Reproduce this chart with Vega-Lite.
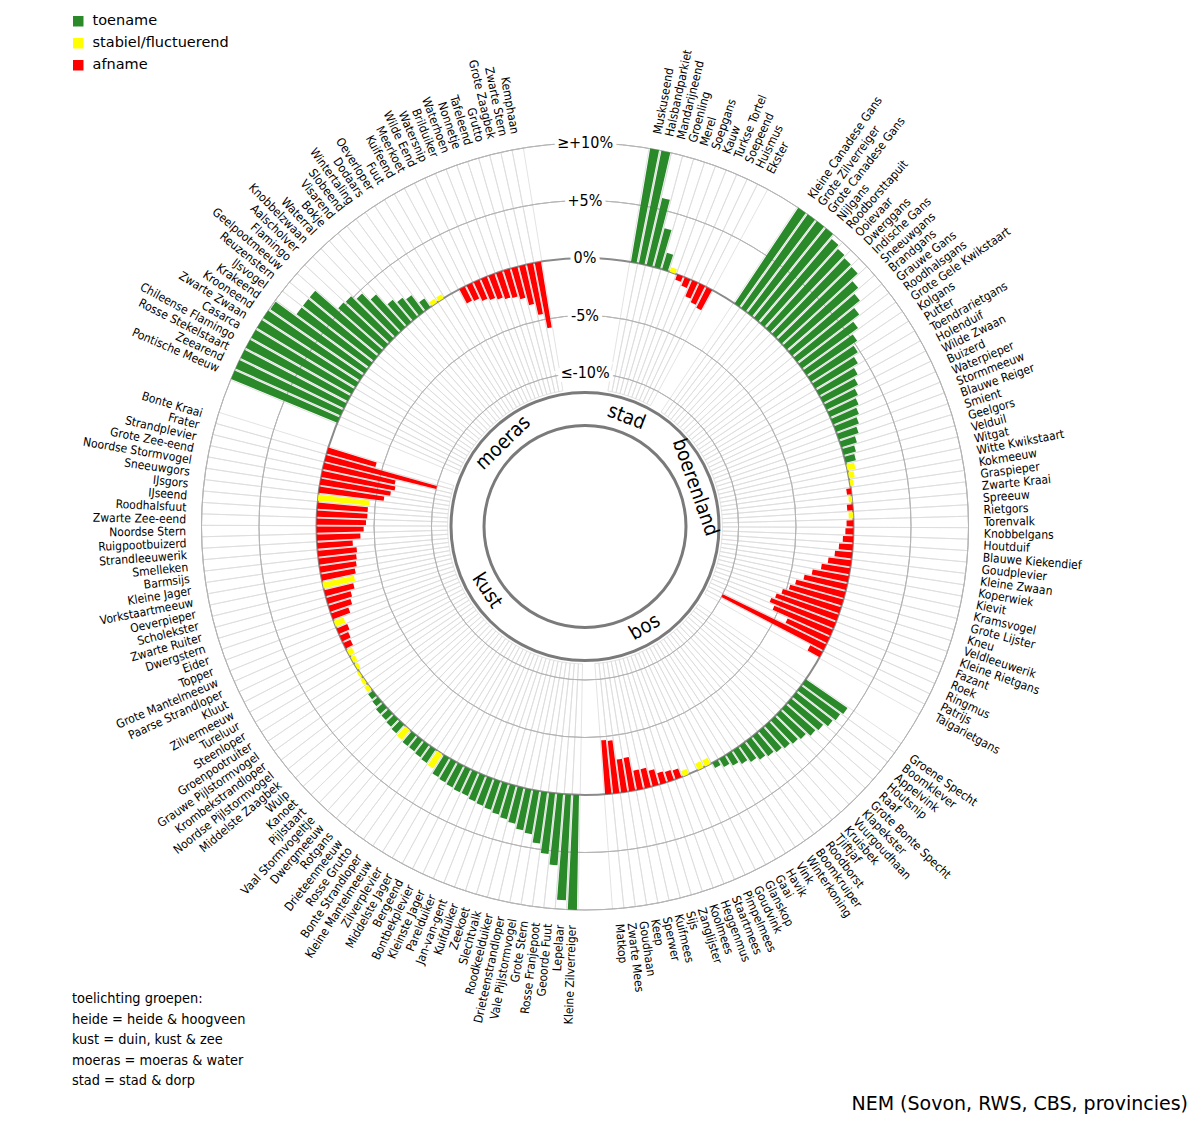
{
  "$schema": "https://vega.github.io/schema/vega-lite/v6.json",
  "width": 1170,
  "height": 1053,
  "autosize": {"type": "none"},
  "padding": {"left": 0, "top": 0, "right": 30, "bottom": 74},
  "background": "white",
  "config": {"view": {"stroke": null}, "font": "DejaVu Sans Condensed, DejaVu Sans, sans-serif"},
  "title": {
    "text": ["toelichting groepen:", "heide = heide & hoogveen", "kust = duin, kust & zee", "moeras = moeras & water", "stad = stad & dorp"],
    "orient": "bottom", "anchor": "start", "frame": "group", "offset": 0, "dx": 72, "dy": -122,
    "fontSize": 14.4, "fontWeight": "normal", "lineHeight": 20.5, "color": "black", "baseline": "top"
  },
  "datasets": {
    "soorten": [
      {"soort": "Muskuseend", "groep": "stad", "trend": "toename", "waarde": 10},
      {"soort": "Halsbandparkiet", "groep": "stad", "trend": "toename", "waarde": 10},
      {"soort": "Mandarijneend", "groep": "stad", "trend": "toename", "waarde": 6},
      {"soort": "Groenling", "groep": "stad", "trend": "toename", "waarde": 3.5},
      {"soort": "Merel", "groep": "stad", "trend": "toename", "waarde": 1.5},
      {"soort": "Soepgans", "groep": "stad", "trend": "stabiel/fluctuerend", "waarde": 0.4},
      {"soort": "Kauw", "groep": "stad", "trend": "afname", "waarde": -0.5},
      {"soort": "Turkse Tortel", "groep": "stad", "trend": "afname", "waarde": -0.8},
      {"soort": "Soepeend", "groep": "stad", "trend": "afname", "waarde": -1.5},
      {"soort": "Huismus", "groep": "stad", "trend": "afname", "waarde": -1.8},
      {"soort": "Ekster", "groep": "stad", "trend": "afname", "waarde": -2},
      {"soort": "Kleine Canadese Gans", "groep": "boerenland", "trend": "toename", "waarde": 10},
      {"soort": "Grote Zilverreiger", "groep": "boerenland", "trend": "toename", "waarde": 10},
      {"soort": "Grote Canadese Gans", "groep": "boerenland", "trend": "toename", "waarde": 10},
      {"soort": "Nijlgans", "groep": "boerenland", "trend": "toename", "waarde": 10},
      {"soort": "Roodborsttapuit", "groep": "boerenland", "trend": "toename", "waarde": 9.6},
      {"soort": "Ooievaar", "groep": "boerenland", "trend": "toename", "waarde": 9.3},
      {"soort": "Dwerggans", "groep": "boerenland", "trend": "toename", "waarde": 9.1},
      {"soort": "Indische Gans", "groep": "boerenland", "trend": "toename", "waarde": 9},
      {"soort": "Sneeuwgans", "groep": "boerenland", "trend": "toename", "waarde": 8.2},
      {"soort": "Brandgans", "groep": "boerenland", "trend": "toename", "waarde": 7.6},
      {"soort": "Grauwe Gans", "groep": "boerenland", "trend": "toename", "waarde": 6.8},
      {"soort": "Roodhalsgans", "groep": "boerenland", "trend": "toename", "waarde": 6},
      {"soort": "Grote Gele Kwikstaart", "groep": "boerenland", "trend": "toename", "waarde": 5.3},
      {"soort": "Kolgans", "groep": "boerenland", "trend": "toename", "waarde": 4.8},
      {"soort": "Putter", "groep": "boerenland", "trend": "toename", "waarde": 4.3},
      {"soort": "Toendrarietgans", "groep": "boerenland", "trend": "toename", "waarde": 3.8},
      {"soort": "Holenduif", "groep": "boerenland", "trend": "toename", "waarde": 3.4},
      {"soort": "Wilde Zwaan", "groep": "boerenland", "trend": "toename", "waarde": 3},
      {"soort": "Buizerd", "groep": "boerenland", "trend": "toename", "waarde": 2.7},
      {"soort": "Waterpieper", "groep": "boerenland", "trend": "toename", "waarde": 2.4},
      {"soort": "Stormmeeuw", "groep": "boerenland", "trend": "toename", "waarde": 2.1},
      {"soort": "Blauwe Reiger", "groep": "boerenland", "trend": "toename", "waarde": 1.8},
      {"soort": "Smient", "groep": "boerenland", "trend": "toename", "waarde": 1.4},
      {"soort": "Geelgors", "groep": "boerenland", "trend": "toename", "waarde": 1.1},
      {"soort": "Velduil", "groep": "boerenland", "trend": "toename", "waarde": 0.9},
      {"soort": "Witgat", "groep": "boerenland", "trend": "stabiel/fluctuerend", "waarde": 0.7},
      {"soort": "Witte Kwikstaart", "groep": "boerenland", "trend": "stabiel/fluctuerend", "waarde": 0.5},
      {"soort": "Kokmeeuw", "groep": "boerenland", "trend": "stabiel/fluctuerend", "waarde": 0.3},
      {"soort": "Graspieper", "groep": "boerenland", "trend": "afname", "waarde": -0.4},
      {"soort": "Zwarte Kraai", "groep": "boerenland", "trend": "stabiel/fluctuerend", "waarde": -0.3},
      {"soort": "Spreeuw", "groep": "boerenland", "trend": "afname", "waarde": -0.5},
      {"soort": "Rietgors", "groep": "boerenland", "trend": "stabiel/fluctuerend", "waarde": -0.4},
      {"soort": "Torenvalk", "groep": "boerenland", "trend": "afname", "waarde": -0.6},
      {"soort": "Knobbelgans", "groep": "boerenland", "trend": "afname", "waarde": -0.7},
      {"soort": "Houtduif", "groep": "boerenland", "trend": "afname", "waarde": -0.9},
      {"soort": "Blauwe Kiekendief", "groep": "boerenland", "trend": "afname", "waarde": -1.2},
      {"soort": "Goudplevier", "groep": "boerenland", "trend": "afname", "waarde": -1.5},
      {"soort": "Kleine Zwaan", "groep": "boerenland", "trend": "afname", "waarde": -2},
      {"soort": "Koperwiek", "groep": "boerenland", "trend": "afname", "waarde": -2.5},
      {"soort": "Kievit", "groep": "boerenland", "trend": "afname", "waarde": -3.2},
      {"soort": "Kramsvogel", "groep": "boerenland", "trend": "afname", "waarde": -3.8},
      {"soort": "Grote Lijster", "groep": "boerenland", "trend": "afname", "waarde": -4.4},
      {"soort": "Kneu", "groep": "boerenland", "trend": "afname", "waarde": -4.8},
      {"soort": "Veldleeuwerik", "groep": "boerenland", "trend": "afname", "waarde": -5.3},
      {"soort": "Kleine Rietgans", "groep": "boerenland", "trend": "afname", "waarde": -5.7},
      {"soort": "Fazant", "groep": "boerenland", "trend": "afname", "waarde": -6},
      {"soort": "Roek", "groep": "boerenland", "trend": "afname", "waarde": -5.5},
      {"soort": "Ringmus", "groep": "boerenland", "trend": "afname", "waarde": -4},
      {"soort": "Patrijs", "groep": "boerenland", "trend": "afname", "waarde": -10},
      {"soort": "Taigarietgans", "groep": "boerenland", "trend": "afname", "waarde": -1.2},
      {"soort": "Groene Specht", "groep": "bos", "trend": "toename", "waarde": 4.4},
      {"soort": "Boomklever", "groep": "bos", "trend": "toename", "waarde": 4.2},
      {"soort": "Appelvink", "groep": "bos", "trend": "toename", "waarde": 4},
      {"soort": "Houtsnip", "groep": "bos", "trend": "toename", "waarde": 3.6},
      {"soort": "Raaf", "groep": "bos", "trend": "toename", "waarde": 3.4},
      {"soort": "Grote Bonte Specht", "groep": "bos", "trend": "toename", "waarde": 3},
      {"soort": "Klapekster", "groep": "bos", "trend": "toename", "waarde": 2.8},
      {"soort": "Vuurgoudhaan", "groep": "bos", "trend": "toename", "waarde": 2.6},
      {"soort": "Kruisbek", "groep": "bos", "trend": "toename", "waarde": 2.4},
      {"soort": "Tjiftjaf", "groep": "bos", "trend": "toename", "waarde": 2.2},
      {"soort": "Roodborst", "groep": "bos", "trend": "toename", "waarde": 2},
      {"soort": "Boomkruiper", "groep": "bos", "trend": "toename", "waarde": 1.7},
      {"soort": "Winterkoning", "groep": "bos", "trend": "toename", "waarde": 1.4},
      {"soort": "Vink", "groep": "bos", "trend": "toename", "waarde": 1.1},
      {"soort": "Havik", "groep": "bos", "trend": "toename", "waarde": 0.8},
      {"soort": "Gaai", "groep": "bos", "trend": "toename", "waarde": 0.5},
      {"soort": "Glanskop", "groep": "bos", "trend": "stabiel/fluctuerend", "waarde": -0.6},
      {"soort": "Goudvink", "groep": "bos", "trend": "stabiel/fluctuerend", "waarde": -0.6},
      {"soort": "Pimpelmees", "groep": "bos", "trend": "stabiel/fluctuerend", "waarde": 0},
      {"soort": "Staartmees", "groep": "bos", "trend": "stabiel/fluctuerend", "waarde": -0.5},
      {"soort": "Heggenmus", "groep": "bos", "trend": "afname", "waarde": -0.8},
      {"soort": "Koolmees", "groep": "bos", "trend": "afname", "waarde": -0.9},
      {"soort": "Zanglijster", "groep": "bos", "trend": "afname", "waarde": -1},
      {"soort": "Sijs", "groep": "bos", "trend": "afname", "waarde": -1.4},
      {"soort": "Kuifmees", "groep": "bos", "trend": "afname", "waarde": -1.7},
      {"soort": "Sperwer", "groep": "bos", "trend": "afname", "waarde": -1.7},
      {"soort": "Keep", "groep": "bos", "trend": "afname", "waarde": -2.95},
      {"soort": "Goudhaan", "groep": "bos", "trend": "afname", "waarde": -2.9},
      {"soort": "Zwarte Mees", "groep": "bos", "trend": "afname", "waarde": -4.6},
      {"soort": "Matkop", "groep": "bos", "trend": "afname", "waarde": -4.7},
      {"soort": "Kleine Zilverreiger", "groep": "kust", "trend": "toename", "waarde": 10},
      {"soort": "Lepelaar", "groep": "kust", "trend": "toename", "waarde": 9.2},
      {"soort": "Geoorde Fuut", "groep": "kust", "trend": "toename", "waarde": 6.2},
      {"soort": "Rosse Franjepoot", "groep": "kust", "trend": "toename", "waarde": 5.3},
      {"soort": "Grote Stern", "groep": "kust", "trend": "toename", "waarde": 4.5},
      {"soort": "Vale Pijlstormvogel", "groep": "kust", "trend": "toename", "waarde": 3.8},
      {"soort": "Drieteenstrandloper", "groep": "kust", "trend": "toename", "waarde": 3.6},
      {"soort": "Roodkeelduiker", "groep": "kust", "trend": "toename", "waarde": 3.2},
      {"soort": "Slechtvalk", "groep": "kust", "trend": "toename", "waarde": 3},
      {"soort": "Zeekoet", "groep": "kust", "trend": "toename", "waarde": 2.8},
      {"soort": "Kuifduiker", "groep": "kust", "trend": "toename", "waarde": 2.6},
      {"soort": "Jan-van-gent", "groep": "kust", "trend": "toename", "waarde": 2.5},
      {"soort": "Parelduiker", "groep": "kust", "trend": "toename", "waarde": 2.4},
      {"soort": "Kleinste Jager", "groep": "kust", "trend": "toename", "waarde": 2.2},
      {"soort": "Bontbekplevier", "groep": "kust", "trend": "toename", "waarde": 2.2},
      {"soort": "Bergeend", "groep": "kust", "trend": "toename", "waarde": 2.1},
      {"soort": "Middelste Jager", "groep": "kust", "trend": "toename", "waarde": 2},
      {"soort": "Zilverplevier", "groep": "kust", "trend": "toename", "waarde": 1.9},
      {"soort": "Kleine Mantelmeeuw", "groep": "kust", "trend": "stabiel/fluctuerend", "waarde": 1.5},
      {"soort": "Bonte Strandloper", "groep": "kust", "trend": "toename", "waarde": 1.4},
      {"soort": "Rosse Grutto", "groep": "kust", "trend": "toename", "waarde": 1.3},
      {"soort": "Drieteenmeeuw", "groep": "kust", "trend": "toename", "waarde": 1.2},
      {"soort": "Rotgans", "groep": "kust", "trend": "toename", "waarde": 1.2},
      {"soort": "Dwergmeeuw", "groep": "kust", "trend": "stabiel/fluctuerend", "waarde": 1.1},
      {"soort": "Vaal Stormvogeltje", "groep": "kust", "trend": "toename", "waarde": 1},
      {"soort": "Pijlstaart", "groep": "kust", "trend": "toename", "waarde": 0.9},
      {"soort": "Kanoet", "groep": "kust", "trend": "toename", "waarde": 0.8},
      {"soort": "Wulp", "groep": "kust", "trend": "toename", "waarde": 0.8},
      {"soort": "Middelste Zaagbek", "groep": "kust", "trend": "toename", "waarde": 0.6},
      {"soort": "Noordse Pijlstormvogel", "groep": "kust", "trend": "toename", "waarde": 0.5},
      {"soort": "Krombekstrandloper", "groep": "kust", "trend": "stabiel/fluctuerend", "waarde": 0.4},
      {"soort": "Grauwe Pijlstormvogel", "groep": "kust", "trend": "stabiel/fluctuerend", "waarde": 0.3},
      {"soort": "Groenpootruiter", "groep": "kust", "trend": "stabiel/fluctuerend", "waarde": 0.2},
      {"soort": "Steenloper", "groep": "kust", "trend": "stabiel/fluctuerend", "waarde": -0.3},
      {"soort": "Tureluur", "groep": "kust", "trend": "stabiel/fluctuerend", "waarde": -0.4},
      {"soort": "Zilvermeeuw", "groep": "kust", "trend": "stabiel/fluctuerend", "waarde": -0.5},
      {"soort": "Kluut", "groep": "kust", "trend": "afname", "waarde": -0.7},
      {"soort": "Paarse Strandloper", "groep": "kust", "trend": "afname", "waarde": -0.8},
      {"soort": "Grote Mantelmeeuw", "groep": "kust", "trend": "afname", "waarde": -1},
      {"soort": "Topper", "groep": "kust", "trend": "stabiel/fluctuerend", "waarde": -0.9},
      {"soort": "Eider", "groep": "kust", "trend": "afname", "waarde": -1.6},
      {"soort": "Dwergstern", "groep": "kust", "trend": "afname", "waarde": -2},
      {"soort": "Zwarte Ruiter", "groep": "kust", "trend": "afname", "waarde": -2.2},
      {"soort": "Scholekster", "groep": "kust", "trend": "afname", "waarde": -2.6},
      {"soort": "Oeverpieper", "groep": "kust", "trend": "stabiel/fluctuerend", "waarde": -2.8},
      {"soort": "Vorkstaartmeeuw", "groep": "kust", "trend": "afname", "waarde": -3},
      {"soort": "Kleine Jager", "groep": "kust", "trend": "afname", "waarde": -3.2},
      {"soort": "Barmsijs", "groep": "kust", "trend": "afname", "waarde": -3.3},
      {"soort": "Smelleken", "groep": "kust", "trend": "afname", "waarde": -3.4},
      {"soort": "Strandleeuwerik", "groep": "kust", "trend": "afname", "waarde": -3.1},
      {"soort": "Ruigpootbuizerd", "groep": "kust", "trend": "afname", "waarde": -3.8},
      {"soort": "Noordse Stern", "groep": "kust", "trend": "afname", "waarde": -4.1},
      {"soort": "Zwarte Zee-eend", "groep": "kust", "trend": "afname", "waarde": -4.3},
      {"soort": "Roodhalsfuut", "groep": "kust", "trend": "afname", "waarde": -4.4},
      {"soort": "IJseend", "groep": "kust", "trend": "afname", "waarde": -4.4},
      {"soort": "IJsgors", "groep": "kust", "trend": "stabiel/fluctuerend", "waarde": -4.5},
      {"soort": "Sneeuwgors", "groep": "kust", "trend": "afname", "waarde": -5.7},
      {"soort": "Noordse Stormvogel", "groep": "kust", "trend": "afname", "waarde": -6.2},
      {"soort": "Grote Zee-eend", "groep": "kust", "trend": "afname", "waarde": -6.5},
      {"soort": "Strandplevier", "groep": "kust", "trend": "afname", "waarde": -6.4},
      {"soort": "Frater", "groep": "kust", "trend": "afname", "waarde": -10},
      {"soort": "Bonte Kraai", "groep": "kust", "trend": "afname", "waarde": -4.4},
      {"soort": "Pontische Meeuw", "groep": "moeras", "trend": "toename", "waarde": 10},
      {"soort": "Zeearend", "groep": "moeras", "trend": "toename", "waarde": 10},
      {"soort": "Rosse Stekelstaart", "groep": "moeras", "trend": "toename", "waarde": 10},
      {"soort": "Chileense Flamingo", "groep": "moeras", "trend": "toename", "waarde": 10},
      {"soort": "Casarca", "groep": "moeras", "trend": "toename", "waarde": 10},
      {"soort": "Zwarte Zwaan", "groep": "moeras", "trend": "toename", "waarde": 10},
      {"soort": "Krooneend", "groep": "moeras", "trend": "toename", "waarde": 10},
      {"soort": "Krakeend", "groep": "moeras", "trend": "toename", "waarde": 9.9},
      {"soort": "IJsvogel", "groep": "moeras", "trend": "toename", "waarde": 7.8},
      {"soort": "Reuzenstern", "groep": "moeras", "trend": "toename", "waarde": 7.8},
      {"soort": "Geelpootmeeuw", "groep": "moeras", "trend": "toename", "waarde": 7.8},
      {"soort": "Flamingo", "groep": "moeras", "trend": "toename", "waarde": 5.3},
      {"soort": "Aalscholver", "groep": "moeras", "trend": "toename", "waarde": 5.2},
      {"soort": "Knobbelzwaan", "groep": "moeras", "trend": "toename", "waarde": 4.7},
      {"soort": "Waterral", "groep": "moeras", "trend": "toename", "waarde": 3.8},
      {"soort": "Bokje", "groep": "moeras", "trend": "toename", "waarde": 2.5},
      {"soort": "Visarend", "groep": "moeras", "trend": "toename", "waarde": 2.1},
      {"soort": "Slobeend", "groep": "moeras", "trend": "toename", "waarde": 1.8},
      {"soort": "Wintertaling", "groep": "moeras", "trend": "toename", "waarde": 0.9},
      {"soort": "Dodaars", "groep": "moeras", "trend": "stabiel/fluctuerend", "waarde": 0.4},
      {"soort": "Oeverloper", "groep": "moeras", "trend": "stabiel/fluctuerend", "waarde": 0.4},
      {"soort": "Fuut", "groep": "moeras", "trend": "stabiel/fluctuerend", "waarde": 0},
      {"soort": "Kuifeend", "groep": "moeras", "trend": "stabiel/fluctuerend", "waarde": 0},
      {"soort": "Meerkoet", "groep": "moeras", "trend": "afname", "waarde": -1.4},
      {"soort": "Wilde Eend", "groep": "moeras", "trend": "afname", "waarde": -1.5},
      {"soort": "Watersnip", "groep": "moeras", "trend": "afname", "waarde": -1.8},
      {"soort": "Brilduiker", "groep": "moeras", "trend": "afname", "waarde": -2},
      {"soort": "Waterhoen", "groep": "moeras", "trend": "afname", "waarde": -2.2},
      {"soort": "Nonnetje", "groep": "moeras", "trend": "afname", "waarde": -2.4},
      {"soort": "Tafeleend", "groep": "moeras", "trend": "afname", "waarde": -2.5},
      {"soort": "Grutto", "groep": "moeras", "trend": "afname", "waarde": -2.8},
      {"soort": "Grote Zaagbek", "groep": "moeras", "trend": "afname", "waarde": -3.5},
      {"soort": "Zwarte Stern", "groep": "moeras", "trend": "afname", "waarde": -4.5},
      {"soort": "Kemphaan", "groep": "moeras", "trend": "afname", "waarde": -5.8}
    ],
    "schaal": [
      {"v": 10, "label": "≥+10%"},
      {"v": 5, "label": "+5%"},
      {"v": 0, "label": "0%"},
      {"v": -5, "label": "-5%"},
      {"v": -10, "label": "≤-10%"}
    ],
    "groepen": [
      {"groep": "moeras", "anker": "Knobbelzwaan"},
      {"groep": "stad", "anker": "Kauw"},
      {"groep": "boerenland", "anker": "Blauwe Reiger"},
      {"groep": "bos", "anker": "Havik"},
      {"groep": "kust", "anker": "Groenpootruiter"}
    ]
  },
  "layer": [
    {
      "data": {"name": "soorten"},
      "mark": {"type": "arc", "filled": false, "stroke": "#dcdcdc", "strokeWidth": 0.8},
      "encoding": {
        "theta": {"field": "soort", "type": "nominal", "sort": null,
          "scale": {"type": "band", "paddingInner": 0, "paddingOuter": 0, "range": [0.1676, 6.4508],
            "domain": ["Muskuseend","Halsbandparkiet","Mandarijneend","Groenling","Merel","Soepgans","Kauw","Turkse Tortel","Soepeend","Huismus","Ekster","_1","_2","_3",
              "Kleine Canadese Gans","Grote Zilverreiger","Grote Canadese Gans","Nijlgans","Roodborsttapuit","Ooievaar","Dwerggans","Indische Gans","Sneeuwgans","Brandgans","Grauwe Gans","Roodhalsgans","Grote Gele Kwikstaart","Kolgans","Putter","Toendrarietgans","Holenduif","Wilde Zwaan","Buizerd","Waterpieper","Stormmeeuw","Blauwe Reiger","Smient","Geelgors","Velduil","Witgat","Witte Kwikstaart","Kokmeeuw","Graspieper","Zwarte Kraai","Spreeuw","Rietgors","Torenvalk","Knobbelgans","Houtduif","Blauwe Kiekendief","Goudplevier","Kleine Zwaan","Koperwiek","Kievit","Kramsvogel","Grote Lijster","Kneu","Veldleeuwerik","Kleine Rietgans","Fazant","Roek","Ringmus","Patrijs","Taigarietgans","_4","_5","_6",
              "Groene Specht","Boomklever","Appelvink","Houtsnip","Raaf","Grote Bonte Specht","Klapekster","Vuurgoudhaan","Kruisbek","Tjiftjaf","Roodborst","Boomkruiper","Winterkoning","Vink","Havik","Gaai","Glanskop","Goudvink","Pimpelmees","Staartmees","Heggenmus","Koolmees","Zanglijster","Sijs","Kuifmees","Sperwer","Keep","Goudhaan","Zwarte Mees","Matkop","_7","_8","_9",
              "Kleine Zilverreiger","Lepelaar","Geoorde Fuut","Rosse Franjepoot","Grote Stern","Vale Pijlstormvogel","Drieteenstrandloper","Roodkeelduiker","Slechtvalk","Zeekoet","Kuifduiker","Jan-van-gent","Parelduiker","Kleinste Jager","Bontbekplevier","Bergeend","Middelste Jager","Zilverplevier","Kleine Mantelmeeuw","Bonte Strandloper","Rosse Grutto","Drieteenmeeuw","Rotgans","Dwergmeeuw","Vaal Stormvogeltje","Pijlstaart","Kanoet","Wulp","Middelste Zaagbek","Noordse Pijlstormvogel","Krombekstrandloper","Grauwe Pijlstormvogel","Groenpootruiter","Steenloper","Tureluur","Zilvermeeuw","Kluut","Paarse Strandloper","Grote Mantelmeeuw","Topper","Eider","Dwergstern","Zwarte Ruiter","Scholekster","Oeverpieper","Vorkstaartmeeuw","Kleine Jager","Barmsijs","Smelleken","Strandleeuwerik","Ruigpootbuizerd","Noordse Stern","Zwarte Zee-eend","Roodhalsfuut","IJseend","IJsgors","Sneeuwgors","Noordse Stormvogel","Grote Zee-eend","Strandplevier","Frater","Bonte Kraai","_10","_11","_12",
              "Pontische Meeuw","Zeearend","Rosse Stekelstaart","Chileense Flamingo","Casarca","Zwarte Zwaan","Krooneend","Krakeend","IJsvogel","Reuzenstern","Geelpootmeeuw","Flamingo","Aalscholver","Knobbelzwaan","Waterral","Bokje","Visarend","Slobeend","Wintertaling","Dodaars","Oeverloper","Fuut","Kuifeend","Meerkoet","Wilde Eend","Watersnip","Brilduiker","Waterhoen","Nonnetje","Tafeleend","Grutto","Grote Zaagbek","Zwarte Stern","Kemphaan","_13","_14","_15","_16","_17","_18","_19","_20","_21","_22","_23"]}},
        "radius": {"datum": 10, "type": "quantitative", "scale": {"type": "linear", "domain": [-10, 10], "range": [153.5, 383.5], "zero": false}},
        "radius2": {"datum": -11.4}
      }
    },
    {
      "data": {"name": "schaal"},
      "mark": {"type": "arc", "filled": false},
      "encoding": {
        "theta": {"value": 0},
        "theta2": {"value": 6.2832},
        "radius": {"field": "v", "type": "quantitative", "scale": {"type": "linear", "domain": [-10, 10], "range": [153.5, 383.5], "zero": false}},
        "radius2": {"field": "v"},
        "stroke": {"condition": {"test": "datum.v === 0", "value": "#8a8a8a"}, "value": "#b4b4b4"},
        "strokeWidth": {"condition": {"test": "datum.v === 0", "value": 2}, "value": 1}
      }
    },
    {
      "data": {"values": [{}]},
      "mark": {"type": "arc", "filled": false, "stroke": "#7a7a7a", "strokeWidth": 3, "radius": 134, "radius2": 134, "theta": 0, "theta2": 6.2832},
      "encoding": {}
    },
    {
      "data": {"values": [{}]},
      "mark": {"type": "arc", "filled": false, "stroke": "#7a7a7a", "strokeWidth": 3, "radius": 101, "radius2": 101, "theta": 0, "theta2": 6.2832},
      "encoding": {}
    },
    {
      "data": {"name": "soorten"},
      "mark": {"type": "arc", "padAngle": 0.005},
      "encoding": {
        "theta": {"field": "soort", "type": "nominal", "sort": null},
        "radius": {"field": "waarde", "type": "quantitative", "scale": {"type": "linear", "domain": [-10, 10], "range": [153.5, 383.5], "zero": false}},
        "radius2": {"datum": 0},
        "color": {"field": "trend", "type": "nominal",
          "scale": {"domain": ["toename", "stabiel/fluctuerend", "afname"], "range": ["#2a8a2a", "#ffff00", "#ff0000"]},
          "legend": {"orient": "none", "legendX": 71, "legendY": 14, "title": null, "symbolType": "square", "symbolSize": 110, "symbolStrokeWidth": 0, "labelFont": "DejaVu Sans", "labelFontSize": 14.5, "labelColor": "black", "rowPadding": 7, "labelOffset": 7}}
      }
    },
    {
      "data": {"name": "schaal"},
      "mark": {"type": "text", "fontSize": 16, "align": "center", "baseline": "middle", "fill": "white", "stroke": "white", "strokeWidth": 8},
      "encoding": {
        "theta": {"value": 0},
        "radius": {"field": "v", "type": "quantitative", "scale": {"type": "linear", "domain": [-10, 10], "range": [153.5, 383.5], "zero": false}},
        "text": {"field": "label"}
      }
    },
    {
      "data": {"name": "schaal"},
      "mark": {"type": "text", "fontSize": 16, "align": "center", "baseline": "middle", "fill": "black"},
      "encoding": {
        "theta": {"value": 0},
        "radius": {"field": "v", "type": "quantitative", "scale": {"type": "linear", "domain": [-10, 10], "range": [153.5, 383.5], "zero": false}},
        "text": {"field": "label"}
      }
    },
    {
      "data": {"name": "soorten"},
      "mark": {"type": "text", "fontSize": 12, "baseline": "middle", "fill": "black",
        "align": {"expr": "scale('theta', datum.soort) + bandwidth('theta') / 2 < PI ? 'left' : 'right'"},
        "angle": {"expr": "(scale('theta', datum.soort) + bandwidth('theta') / 2) * 180 / PI + (scale('theta', datum.soort) + bandwidth('theta') / 2 < PI ? -90 : 90)"}},
      "encoding": {
        "theta": {"field": "soort", "type": "nominal", "sort": null},
        "radius": {"value": 399},
        "text": {"field": "soort"}
      }
    },
    {
      "data": {"name": "groepen"},
      "mark": {"type": "text", "fontSize": 20, "baseline": "middle", "align": "center", "fill": "black",
        "angle": {"expr": "(scale('theta', datum.anker) + bandwidth('theta') / 2) * 180 / PI + ((scale('theta', datum.anker) + bandwidth('theta') / 2) > PI / 2 && (scale('theta', datum.anker) + bandwidth('theta') / 2) < 3 * PI / 2 ? -180 : 0)"}},
      "encoding": {
        "theta": {"field": "anker", "type": "nominal", "sort": null},
        "radius": {"value": 117},
        "text": {"field": "groep"}
      }
    },
    {
      "data": {"values": [{}]},
      "mark": {"type": "text", "text": "NEM (Sovon, RWS, CBS, provincies)", "font": "DejaVu Sans", "fontSize": 19, "align": "right", "baseline": "middle", "fill": "black", "dx": 18, "dy": 51},
      "encoding": {"x": {"value": "width"}, "y": {"value": "height"}}
    }
  ]
}
